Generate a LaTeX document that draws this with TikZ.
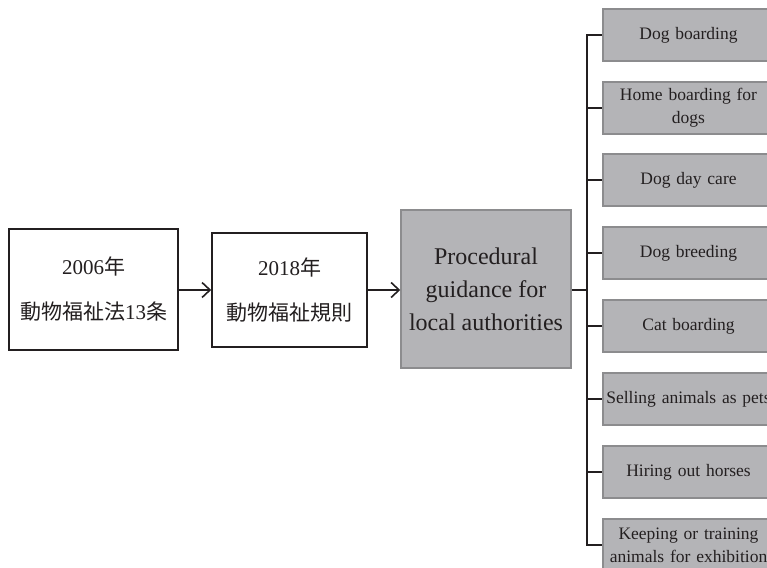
\documentclass[tikz,border=0pt]{standalone}
\usepackage{fontspec}
\setmainfont{Liberation Serif}
\newfontfamily\cjk{Noto Sans CJK JP}
\usetikzlibrary{arrows.meta}
\definecolor{boxgray}{RGB}{180,180,183}
\definecolor{edgegray}{RGB}{140,140,142}
\definecolor{ink}{RGB}{35,31,32}
\begin{document}
\begin{tikzpicture}[x=1pt,y=-1pt,
  lawbox/.style={draw=ink,line width=1.6pt,fill=white,text=ink,align=center,
    minimum width=#1,inner sep=0pt,font=\fontsize{21}{45}\selectfont},
  procbox/.style={draw=edgegray,line width=1.5pt,fill=boxgray,text=ink,align=center,
    minimum width=170pt,minimum height=158pt,inner sep=0pt,font=\fontsize{24}{33}\selectfont},
  catbox/.style={draw=edgegray,line width=1.5pt,fill=boxgray,text=ink,align=center,
    minimum width=171pt,minimum height=52pt,inner sep=0pt,text width=168pt,
    font=\fontsize{17.5}{23}\selectfont},
  flow/.style={draw=ink,line width=1.6pt,-{Straight Barb[length=8pt,width=15pt,line width=1.6pt]}},
  tree/.style={draw=ink,line width=1.8pt}]
\clip (0,0) rectangle (767,567);
\fill[white] (0,0) rectangle (767,567);
\node[lawbox=169pt,minimum height=121pt] (a) at (93.5,289.5) {2006{\cjk 年}\\{\cjk 動物福祉法}13{\cjk 条}};
\node[lawbox=155pt,minimum height=114pt] (b) at (289.5,290) {2018{\cjk 年}\\{\cjk 動物福祉規則}};
\node[procbox] (p) at (486,289) {Procedural\\guidance for\\local authorities};
\node[catbox] (c1) at (688.5,35) {Dog boarding};
\node[catbox] (c2) at (688.5,108) {Home boarding for\\dogs};
\node[catbox] (c3) at (688.5,180) {Dog day care};
\node[catbox] (c4) at (688.5,253) {Dog breeding};
\node[catbox] (c5) at (688.5,326) {Cat boarding};
\node[catbox] (c6) at (688.5,399) {Selling animals as pets};
\node[catbox] (c7) at (688.5,472) {Hiring out horses};
\node[catbox] (c8) at (688.5,545) {Keeping or training\\animals for exhibition};
\draw[flow] (a.east |- 0,290) -- (b.west |- 0,290);
\draw[flow] (b.east |- 0,290) -- (p.west |- 0,290);
\coordinate (j) at (587,290);
\draw[tree] (p.east |- j) -- (j);
\draw[tree,line cap=rect] (c1.west -| j) -- (c8.west -| j);
\foreach \i in {1,...,8}{\draw[tree] (c\i.west -| j) -- (c\i.west);}
\end{tikzpicture}
\end{document}
